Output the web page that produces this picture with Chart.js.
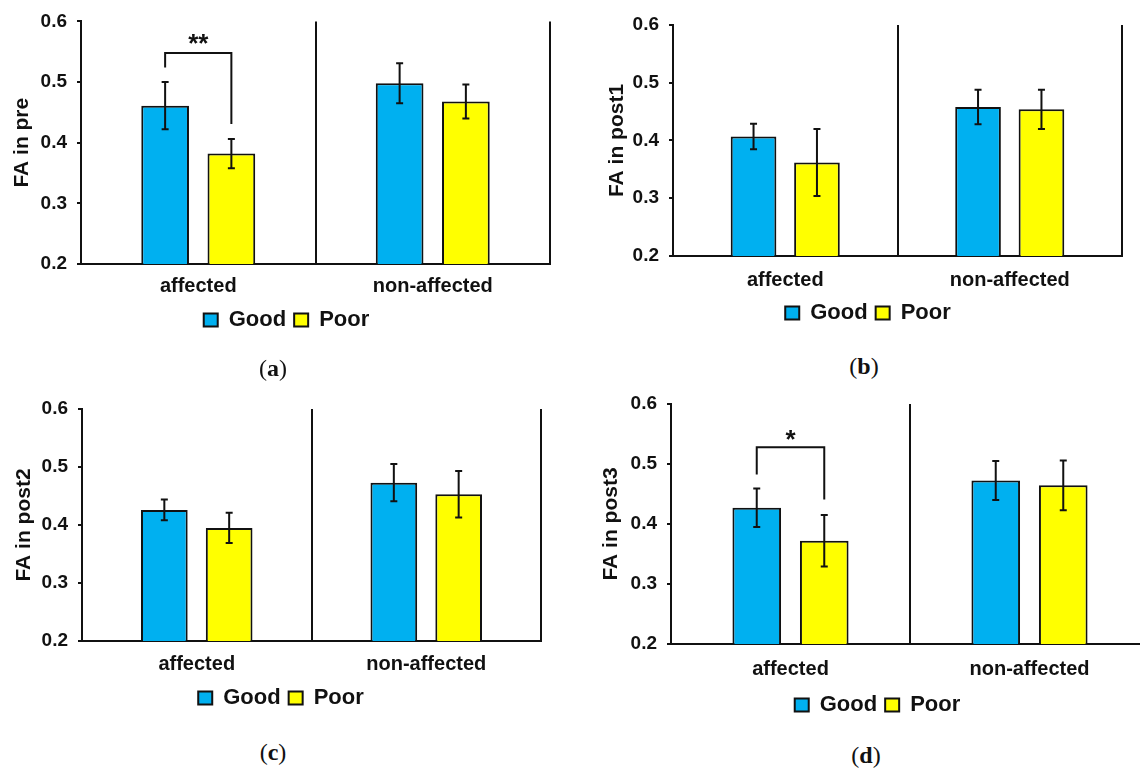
<!DOCTYPE html>
<html>
<head>
<meta charset="utf-8">
<script src="https://cdn.jsdelivr.net/npm/chart.js@4.4.1/dist/chart.umd.min.js"></script>
<style>
    html, body { margin: 0; padding: 0; background: #fff; }
    body { width: 1140px; height: 769px; overflow: hidden; position: relative; }
    canvas { position: absolute; }
    .cap { position: absolute; font-family: 'Liberation Serif', 'Times New Roman', serif; font-size: 24px; color: #111; transform: translate(-50%, -50%); white-space: nowrap; }
</style>
</head>
<body>

<canvas id="chartPre" width="573" height="341" style="left:0px;top:0px"></canvas>
<canvas id="chartPost1" width="552" height="334" style="left:592px;top:0px"></canvas>
<canvas id="chartPost2" width="560" height="339" style="left:1px;top:380px"></canvas>
<canvas id="chartPost3" width="575" height="346" style="left:590px;top:380px"></canvas>

<div class="cap" style="left:273px;top:368px">(<b>a</b>)</div>
<div class="cap" style="left:864px;top:366px">(<b>b</b>)</div>
<div class="cap" style="left:273px;top:752px">(<b>c</b>)</div>
<div class="cap" style="left:866px;top:755px">(<b>d</b>)</div>

<script>
// categorias e series
const categorias = ['affected', 'non-affected'];
const grupos = ['Good', 'Poor'];
const yTicks = [0.2, 0.3, 0.4, 0.5, 0.6];

// FA in pre
const preGood = [0.461, 0.498];
const prePoor = [0.382, 0.468];
const preGoodErr = [0.039, 0.033];
const prePoorErr = [0.024, 0.028];

// FA in post1
const post1Good = [0.407, 0.458];
const post1Poor = [0.362, 0.454];
const post1GoodErr = [0.022, 0.030];
const post1PoorErr = [0.058, 0.034];

// FA in post2
const post2Good = [0.426, 0.473];
const post2Poor = [0.395, 0.453];
const post2GoodErr = [0.018, 0.032];
const post2PoorErr = [0.026, 0.040];

// FA in post3
const post3Good = [0.427, 0.4725];
const post3Poor = [0.372, 0.4645];
const post3GoodErr = [0.032, 0.0325];
const post3PoorErr = [0.043, 0.0415];

const fonte = "'Liberation Sans', Arial, sans-serif";
const preto = '#111';

// barras de erro
const barrasErro = {
    id: 'barrasErro',
    afterDatasetsDraw(chart) {
        const ctx = chart.ctx;
        const y = chart.scales.y;
        ctx.save();
        ctx.strokeStyle = preto;
        ctx.lineWidth = 2;
        chart.data.datasets.forEach((ds, i) => {
            chart.getDatasetMeta(i).data.forEach((bar, j) => {
                var topo = y.getPixelForValue(ds.data[j] + ds.erros[j]);
                var base = y.getPixelForValue(ds.data[j] - ds.erros[j]);
                ctx.beginPath();
                ctx.moveTo(bar.x, topo);
                ctx.lineTo(bar.x, base);
                ctx.moveTo(bar.x - 3.5, topo);
                ctx.lineTo(bar.x + 3.5, topo);
                ctx.moveTo(bar.x - 3.5, base);
                ctx.lineTo(bar.x + 3.5, base);
                ctx.stroke();
            });
        });
        ctx.restore();
    }
};

// colchete de significancia
const colchete = {
    id: 'colchete',
    afterDatasetsDraw(chart, args, opts) {
        if (!opts.texto) return;
        const ctx = chart.ctx;
        const y = chart.scales.y;
        var b0 = chart.getDatasetMeta(0).data[opts.cat];
        var b1 = chart.getDatasetMeta(1).data[opts.cat];
        ctx.save();
        ctx.strokeStyle = preto;
        ctx.lineWidth = 2;
        ctx.beginPath();
        ctx.moveTo(b0.x, y.getPixelForValue(opts.esq));
        ctx.lineTo(b0.x, y.getPixelForValue(opts.topo));
        ctx.lineTo(b1.x, y.getPixelForValue(opts.topo));
        ctx.lineTo(b1.x, y.getPixelForValue(opts.dir));
        ctx.stroke();
        ctx.fillStyle = preto;
        ctx.font = 'bold 26px ' + fonte;
        ctx.textAlign = 'center';
        ctx.textBaseline = 'alphabetic';
        ctx.fillText(opts.texto, (b0.x + b1.x) / 2, y.getPixelForValue(opts.textoY) + 13);
        ctx.restore();
    }
};

function criarGrafico(id, titulo, good, poor, goodErr, poorErr, lay, sig) {
    const ctx = document.getElementById(id);
    return new Chart(ctx, {
        type: 'bar',
        data: {
            labels: categorias,
            datasets: [{
                label: grupos[0],
                data: good,
                erros: goodErr,
                backgroundColor: '#00B0F0',
                borderColor: preto,
                borderWidth: 2
            }, {
                label: grupos[1],
                data: poor,
                erros: poorErr,
                backgroundColor: '#FFFF00',
                borderColor: preto,
                borderWidth: 2
            }]
        },
        options: {
            responsive: false,
            animation: false,
            categoryPercentage: 0.565,
            barPercentage: 0.72,
            layout: { padding: { top: lay.topo, left: 0, right: 0, bottom: 0 } },
            scales: {
                x: {
                    grid: { display: true, offset: true, color: preto, lineWidth: 2, drawTicks: false },
                    border: { display: true, color: preto, width: 2 },
                    ticks: {
                        color: preto,
                        padding: lay.xPad,
                        maxRotation: 0,
                        font: { family: fonte, size: 20, weight: 'bold' }
                    },
                    afterFit: s => { s.height = lay.xAlt; }
                },
                y: {
                    min: 0.2,
                    max: 0.6,
                    afterBuildTicks: s => { s.ticks = yTicks.map(v => ({ value: v })); },
                    grid: { drawOnChartArea: false, drawTicks: true, tickLength: 4, color: preto, lineWidth: 2 },
                    border: { display: true, color: preto, width: 2 },
                    ticks: {
                        color: preto,
                        padding: 10,
                        font: { family: fonte, size: 19, weight: 'bold' },
                        callback: v => Number(v).toFixed(1)
                    },
                    title: {
                        display: true,
                        text: titulo,
                        color: preto,
                        font: { family: fonte, size: 21, weight: 'bold' },
                        padding: { top: lay.tituloPad, bottom: 0 }
                    },
                    afterFit: s => { s.width = 81; }
                },
                margem: {
                    type: 'linear',
                    position: 'right',
                    display: true,
                    grid: { display: false },
                    border: { display: false },
                    ticks: { display: false },
                    afterFit: s => { s.width = lay.direita; }
                }
            },
            plugins: {
                legend: {
                    position: 'bottom',
                    labels: {
                        boxWidth: 14,
                        boxHeight: 13,
                        padding: 8,
                        color: preto,
                        font: { family: fonte, size: 22, weight: 'bold' }
                    }
                },
                tooltip: { enabled: false },
                colchete: sig
            }
        },
        plugins: [barrasErro, colchete]
    });
}

criarGrafico('chartPre', 'FA in pre', preGood, prePoor, preGoodErr, prePoorErr,
    { topo: 17, xAlt: 37, xPad: 10, tituloPad: 10, direita: 23 },
    { cat: 0, esq: 0.524, topo: 0.548, dir: 0.431, texto: '**', textoY: 0.571 });

criarGrafico('chartPost1', 'FA in post1', post1Good, post1Poor, post1GoodErr, post1PoorErr,
    { topo: 25, xAlt: 38, xPad: 12, tituloPad: 13, direita: 22 }, false);

criarGrafico('chartPost2', 'FA in post2', post2Good, post2Poor, post2GoodErr, post2PoorErr,
    { topo: 29, xAlt: 38, xPad: 11, tituloPad: 11, direita: 20 }, false);

criarGrafico('chartPost3', 'FA in post3', post3Good, post3Poor, post3GoodErr, post3PoorErr,
    { topo: 24, xAlt: 42, xPad: 13, tituloPad: 9, direita: 16 },
    { cat: 0, esq: 0.4825, topo: 0.528, dir: 0.441, texto: '*', textoY: 0.549 });
</script>
</body>
</html>
